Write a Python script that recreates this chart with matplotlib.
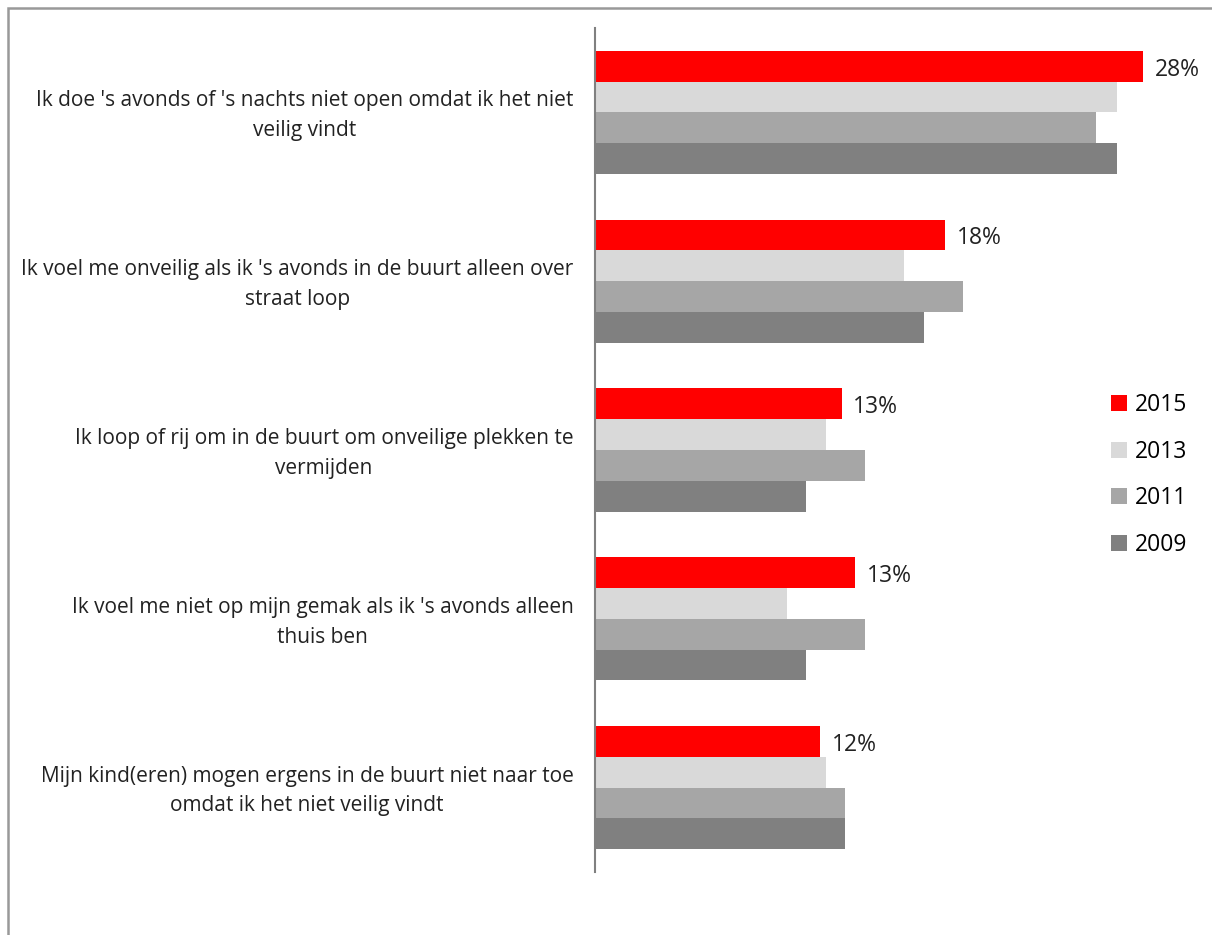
import matplotlib.pyplot as plt
import numpy as np
from matplotlib.patches import Rectangle

plt.rcParams['font.family'] = ['Open Sans', 'DejaVu Sans']

categories = [
    "Ik doe 's avonds of 's nachts niet open omdat ik het niet\nveilig vindt",
    "Ik voel me onveilig als ik 's avonds in de buurt alleen over\nstraat loop",
    "Ik loop of rij om in de buurt om onveilige plekken te\nvermijden",
    "Ik voel me niet op mijn gemak als ik 's avonds alleen\nthuis ben",
    "Mijn kind(eren) mogen ergens in de buurt niet naar toe\nomdat ik het niet veilig vindt",
]
years = ['2015', '2013', '2011', '2009']
v2015 = [28.0, 17.9, 12.6, 13.3, 11.5]
v2013 = [26.7, 15.8, 11.8, 9.8, 11.8]
v2011 = [25.6, 18.8, 13.8, 13.8, 12.8]
v2009 = [26.7, 16.8, 10.8, 10.8, 12.8]
colors = ['#ff0000', '#d9d9d9', '#a6a6a6', '#808080']

series = [v2015, v2013, v2011, v2009]

fig = plt.figure(figsize=(12.12, 9.35), dpi=100)
ax = fig.add_axes([595 / 1212, 1 - 872 / 935, (1182 - 595) / 1212, (872 - 28) / 935])

y = np.arange(len(categories))
h = 0.73 / 4
for k, (vals, col, yr) in enumerate(zip(series, colors, years)):
    ax.barh(y - 0.365 + h * (k + 0.5), vals, height=h, color=col, label=yr)

# labels for 2015
for i, v in enumerate(v2015):
    ax.text(v + 0.6, y[i] - 0.365 + h * 0.5 + 0.02, f"{v:.0f}%", va='center', ha='left',
            fontsize=16.5, color='#222222')

ax.set_xlim(0, 30)
ax.set_ylim(len(categories) - 0.5, -0.5)
for s in ['top', 'right', 'bottom']:
    ax.spines[s].set_visible(False)
ax.spines['left'].set_color('#808080')
ax.spines['left'].set_linewidth(1.5)
ax.set_xticks([])
ax.set_yticks([])

for i, c in enumerate(categories):
    ax.text(-1.1, y[i] + 0.02, c, ha='right', va='center', multialignment='center',
            fontsize=15, linespacing=1.55, color='#222222')

ax.legend(loc='center left', bbox_to_anchor=(1090 / 1212, 1 - 475 / 935),
          bbox_transform=fig.transFigure, frameon=False, fontsize=16.5,
          handlelength=0.7, handleheight=0.7, handletextpad=0.35,
          labelspacing=1.0)

# chart frame (cropped at right and bottom)
fig.patches.append(Rectangle((8 / 1212, -0.1), 1.2, 1 - 8 / 935 + 0.1,
                             transform=fig.transFigure, fill=False,
                             edgecolor='#999999', linewidth=1.8))

fig.savefig('out.png', dpi=100, facecolor='white')
